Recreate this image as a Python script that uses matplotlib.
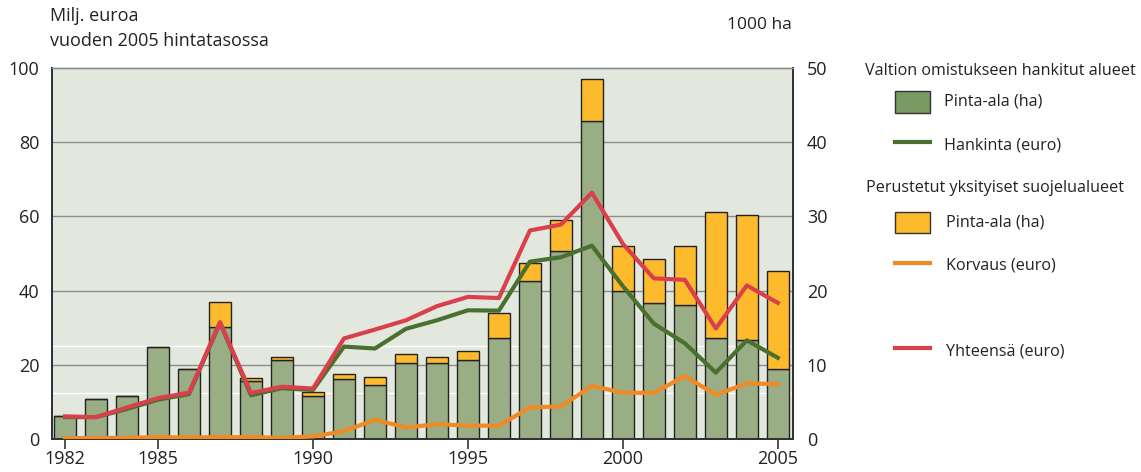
import matplotlib
matplotlib.use('Agg')
import matplotlib.pyplot as plt
from matplotlib.patches import Rectangle
from matplotlib.lines import Line2D

plt.rcParams['font.family'] = ['Open Sans', 'DejaVu Sans']

# ── Data ─────────────────────────────────────────────
years = list(range(1982, 2006))

# 1000 ha (right axis)
valtio_ha = [3.05, 5.45, 5.8, 12.45, 9.45, 15.1, 7.8, 10.65, 5.8, 8.05, 7.3, 10.2,
             10.3, 10.6, 13.65, 21.35, 25.4, 42.8, 19.9, 18.3, 18.0, 13.6, 13.3, 9.5]
yksityinen_ha = [0.0, 0.0, 0.0, 0.0, 0.0, 3.3, 0.4, 0.35, 0.5, 0.7, 1.0, 1.2,
                 0.7, 1.2, 3.35, 2.35, 4.1, 5.7, 6.15, 6.0, 8.05, 17.0, 16.9, 13.2]

# Milj. euroa (left axis)
hankinta = [5.9, 5.9, 8.1, 10.6, 12.1, 31.3, 11.8, 13.7, 13.2, 24.9, 24.4, 29.7,
            32.0, 34.7, 34.6, 47.8, 49.0, 52.1, 41.2, 31.1, 25.8, 17.9, 26.6, 21.9]
korvaus = [0.2, 0.3, 0.3, 0.5, 0.4, 0.5, 0.5, 0.3, 0.7, 2.1, 5.2, 3.1,
           4.0, 3.6, 3.6, 8.5, 8.8, 14.3, 12.5, 12.4, 17.0, 11.9, 15.0, 14.8]
yhteensa = [6.1, 5.9, 8.5, 11.0, 12.5, 31.5, 12.4, 14.1, 13.6, 27.1, 29.5, 32.0,
            35.8, 38.3, 38.0, 56.2, 57.8, 66.4, 52.6, 43.3, 42.9, 29.8, 41.4, 36.7]

xticks = [1982, 1985, 1990, 1995, 2000, 2005]

# ── Colours ──────────────────────────────────────────
BG = '#e3e8de'
GREEN_BAR = '#9aae86'
YELLOW = '#fdba2c'
GREEN_LINE = '#4a7030'
ORANGE = '#f08a24'
RED = '#d9404c'
DARK = '#333333'
TXT = '#222222'

fig = plt.figure(figsize=(11.41, 4.72), dpi=100)
ax = fig.add_axes([0.0456, 0.0699, 0.6494, 0.786])

# ── Right axis: bars (1000 ha) ──
ax2 = ax.twinx()
ax.set_zorder(ax2.get_zorder() + 1)
ax.patch.set_visible(False)
ax2.set_facecolor(BG)
ax2.patch.set_visible(True)

for v in [20, 40, 60, 80]:
    ax2.axhline(v / 2, color='#8c8c8c', lw=1.0, zorder=0)
for v in [12.5, 25]:
    ax2.axhline(v / 2, color='white', lw=1.0, zorder=0)

ax2.bar(years, valtio_ha, width=0.72, color=GREEN_BAR, edgecolor='#222222', linewidth=1.0, zorder=2)
ax2.bar(years, yksityinen_ha, width=0.72, bottom=valtio_ha, color=YELLOW,
        edgecolor='#222222', linewidth=1.0, zorder=2)
ax2.set_ylim(0, 50)
ax2.set_yticks([0, 10, 20, 30, 40, 50])

# ── Left axis: lines (Milj. euroa) ──
ax.plot(years, hankinta, color=GREEN_LINE, lw=3.0, zorder=3)
ax.plot(years, korvaus, color=ORANGE, lw=3.0, zorder=3)
ax.plot(years, yhteensa, color=RED, lw=3.0, zorder=4)
ax.set_ylim(0, 100)
ax.set_yticks([0, 20, 40, 60, 80, 100])
ax.set_xlim(1981.58, 2005.49)
ax.set_xticks(xticks)

for a in (ax, ax2):
    a.tick_params(axis='y', length=0, labelsize=13, colors=TXT)
    for s in a.spines.values():
        s.set_color(DARK)
        s.set_linewidth(1.3)
    a.spines['top'].set_color('#8c8c8c')
    a.spines['top'].set_linewidth(1.0)
ax.tick_params(axis='y', pad=9)
ax2.tick_params(axis='y', pad=10)
ax.tick_params(axis='x', length=7, width=1.2, color=DARK, labelsize=13, colors=TXT, pad=1)

# ── Titles ──
fig.text(0.044, 0.966, 'Milj. euroa', fontsize=13, color=TXT, va='center')
fig.text(0.044, 0.913, 'vuoden 2005 hintatasossa', fontsize=13, color=TXT, va='center')
fig.text(0.694, 0.947, '1000 ha', fontsize=12.5, color=TXT, va='center', ha='right')

# ── Legend (drawn by hand) ──
W, H = 1141, 472

def fx(x):
    return x / W

def fy(y):
    return 1 - y / H

def box(y0, y1, color):
    fig.patches.append(Rectangle((fx(895), fy(y1)), fx(930) - fx(895), fy(y0) - fy(y1),
                                 transform=fig.transFigure, facecolor=color,
                                 edgecolor='#333333', linewidth=1.0))

def line(y, color):
    fig.lines.append(Line2D([fx(895), fx(930)], [fy(y), fy(y)], transform=fig.transFigure,
                            color=color, lw=3.0))

fs = 11.6
fig.text(fx(865), fy(71), 'Valtion omistukseen hankitut alueet', fontsize=fs, va='center', color=TXT)
box(91, 113, '#7a9a64')
fig.text(fx(944), fy(102), 'Pinta-ala (ha)', fontsize=fs, va='center', color=TXT)
line(142, GREEN_LINE)
fig.text(fx(944), fy(145), 'Hankinta (euro)', fontsize=fs, va='center', color=TXT)
fig.text(fx(866), fy(188), 'Perustetut yksityiset suojelualueet', fontsize=fs, va='center', color=TXT)
box(212, 233, YELLOW)
fig.text(fx(946), fy(223), 'Pinta-ala (ha)', fontsize=fs, va='center', color=TXT)
line(263, ORANGE)
fig.text(fx(946), fy(266), 'Korvaus (euro)', fontsize=fs, va='center', color=TXT)
line(348, RED)
fig.text(fx(946), fy(351), 'Yhteensä (euro)', fontsize=fs, va='center', color=TXT)

fig.savefig('out.png', dpi=100)
